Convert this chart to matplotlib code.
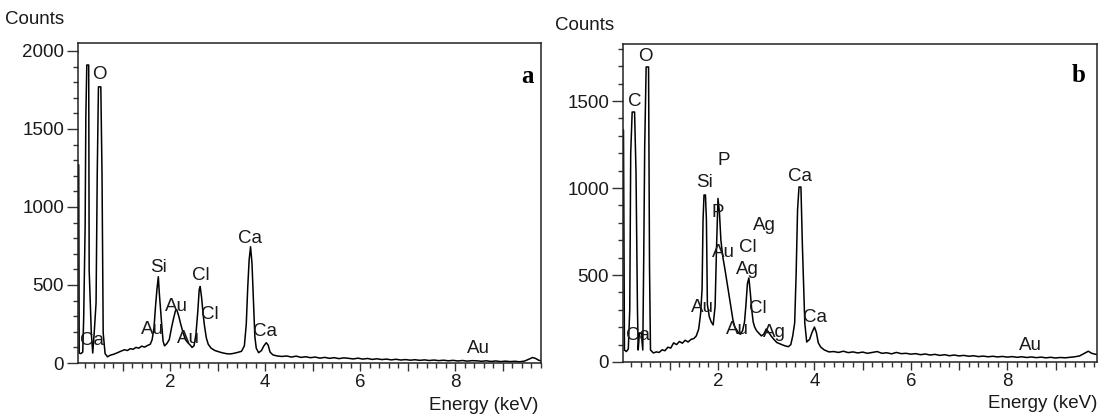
import matplotlib
matplotlib.use("Agg")
import matplotlib.pyplot as plt
from matplotlib.ticker import MultipleLocator, FuncFormatter

plt.rcParams['font.family'] = ['Liberation Sans', 'DejaVu Sans']

# ---------------- Panel a data (energy keV, counts) ----------------
energy_a = [0.05, 0.075, 0.085, 0.12, 0.16, 0.18, 0.21, 0.225, 0.245, 0.285, 0.295, 0.34, 0.37, 0.40, 0.44,
            0.465, 0.49, 0.54, 0.565, 0.59, 0.63, 0.68, 0.74, 0.80, 0.86, 0.92, 0.98, 1.04, 1.10, 1.16, 1.22,
            1.28, 1.34, 1.40, 1.46, 1.52, 1.58, 1.62, 1.66, 1.69, 1.72, 1.75, 1.77, 1.80, 1.82, 1.85, 1.88,
            1.93, 1.98, 2.03, 2.07, 2.11, 2.14, 2.18, 2.22, 2.27, 2.32, 2.37, 2.42, 2.46, 2.50, 2.54, 2.58,
            2.61, 2.63, 2.66, 2.69, 2.72, 2.76, 2.80, 2.86, 2.94, 3.02, 3.10, 3.18, 3.26, 3.34, 3.42, 3.50,
            3.56, 3.60, 3.63, 3.66, 3.69, 3.72, 3.75, 3.78, 3.81, 3.86, 3.92, 3.97, 4.02, 4.06, 4.10, 4.16,
            4.25, 4.35, 4.45, 4.55, 4.65, 4.75, 4.85, 4.95, 5.05, 5.15, 5.25, 5.35, 5.45, 5.55, 5.65, 5.75,
            5.85, 5.95, 6.05, 6.15, 6.25, 6.35, 6.45, 6.55, 6.65, 6.75, 6.85, 6.95, 7.05, 7.15, 7.25, 7.35,
            7.45, 7.55, 7.65, 7.75, 7.85, 7.95, 8.05, 8.15, 8.25, 8.35, 8.45, 8.55, 8.65, 8.75, 8.85, 8.95,
            9.05, 9.15, 9.25, 9.35, 9.45, 9.55, 9.62, 9.68, 9.75, 9.82]
counts_a = [1270, 1270, 64, 60, 70, 295, 872, 1577, 1910, 1910, 596, 192, 64, 190, 385,
            1218, 1770, 1770, 1218, 192, 60, 40, 50, 55, 62, 70, 78, 85, 80, 92, 88,
            100, 95, 108, 102, 112, 120, 150, 230, 360, 470, 553, 450, 330, 250, 140, 110,
            125, 150, 230, 285, 335, 340, 300, 250, 195, 150, 130, 115, 100, 110, 180, 330,
            470, 490, 420, 320, 240, 160, 120, 95, 80, 72, 65, 60, 58, 62, 68, 75,
            110, 250, 480, 660, 745, 640, 400, 170, 95, 66, 80, 110, 130, 115, 70, 52,
            45, 42, 45, 38, 44, 36, 40, 34, 38, 31, 36, 30, 34, 28, 33, 30,
            26, 31, 25, 29, 23, 27, 22, 25, 20, 24, 19, 22, 18, 21, 17, 20,
            16, 19, 15, 18, 14, 17, 13, 16, 12, 15, 14, 11, 14, 10, 13, 9,
            12, 9, 11, 8, 12, 25, 35, 30, 18, 12]

labels_a = ['O', 'Ca', 'Si', 'Au', 'Au', 'Au', 'Cl', 'Cl', 'Ca', 'Ca', 'Au']
label_x_a = [0.50, 0.36, 1.75, 1.63, 2.13, 2.38, 2.64, 2.84, 3.68, 4.00, 8.48]
label_y_a = [1846, 147, 615, 212, 359, 160, 564, 308, 801, 199, 90]

# ---------------- Panel b data ----------------
energy_b = [0.0, 0.04, 0.06, 0.10, 0.14, 0.17, 0.19, 0.22, 0.27, 0.30, 0.33, 0.345, 0.37, 0.41, 0.44,
            0.46, 0.48, 0.51, 0.56, 0.58, 0.60, 0.66, 0.72, 0.78, 0.84, 0.90, 0.96, 1.02, 1.08, 1.14, 1.20,
            1.26, 1.32, 1.38, 1.44, 1.50, 1.55, 1.60, 1.64, 1.67, 1.69, 1.71, 1.74, 1.76, 1.78, 1.82, 1.86,
            1.90, 1.94, 1.97, 2.00, 2.03, 2.06, 2.10, 2.14, 2.18, 2.22, 2.26, 2.31, 2.35, 2.39, 2.43, 2.47,
            2.51, 2.55, 2.58, 2.61, 2.64, 2.67, 2.70, 2.73, 2.76, 2.80, 2.85, 2.90, 2.95, 3.00, 3.04, 3.10,
            3.16, 3.22, 3.28, 3.34, 3.40, 3.46, 3.51, 3.55, 3.59, 3.62, 3.65, 3.68, 3.72, 3.75, 3.78, 3.80,
            3.84, 3.90, 3.95, 4.00, 4.04, 4.08, 4.13, 4.20, 4.30, 4.40, 4.50, 4.60, 4.70, 4.80, 4.90, 5.00,
            5.10, 5.20, 5.30, 5.40, 5.50, 5.60, 5.70, 5.80, 5.90, 6.00, 6.10, 6.20, 6.30, 6.40, 6.50, 6.60,
            6.70, 6.80, 6.90, 7.00, 7.10, 7.20, 7.30, 7.40, 7.50, 7.60, 7.70, 7.80, 7.90, 8.00, 8.10, 8.20,
            8.30, 8.40, 8.50, 8.60, 8.70, 8.80, 8.90, 9.00, 9.10, 9.20, 9.30, 9.40, 9.50, 9.60, 9.68, 9.75,
            9.82, 9.90]
counts_b = [1334, 1334, 69, 60, 75, 300, 1200, 1437, 1437, 1087, 300, 69, 167, 167, 69,
            600, 1236, 1696, 1696, 546, 69, 52, 58, 55, 70, 65, 85, 80, 110, 100, 118,
            108, 125, 115, 130, 135, 150, 190, 280, 420, 816, 960, 960, 816, 330, 260, 230,
            213, 320, 661, 940, 860, 700, 604, 540, 471, 400, 330, 242, 200, 184, 165, 160,
            180, 230, 330, 450, 483, 400, 299, 230, 201, 180, 165, 150, 160, 190, 175, 150,
            130, 112, 105, 98, 92, 88, 100, 150, 224, 500, 874, 1006, 1006, 673, 400, 224,
            115, 130, 170, 201, 170, 110, 86, 70, 58, 60, 55, 62, 54, 58, 52, 57,
            50, 55, 60, 50, 53, 47, 55, 48, 50, 45, 48, 42, 46, 40, 44, 38,
            42, 36, 40, 35, 38, 33, 36, 31, 34, 30, 33, 29, 32, 28, 31, 27,
            30, 26, 29, 25, 28, 24, 27, 23, 26, 24, 27, 30, 35, 50, 62, 50,
            45, 40]

labels_b = ['O', 'C', 'Ca', 'Si', 'P', 'P', 'Ag', 'Au', 'Cl', 'Ag', 'Cl', 'Au', 'Au', 'Ag', 'Ca', 'Ca', 'Au']
label_x_b = [0.50, 0.28, 0.34, 1.73, 2.12, 2.00, 2.97, 2.12, 2.62, 2.60, 2.83, 1.67, 2.40, 3.16, 3.70, 4.01, 8.47]
label_y_b = [1754, 1495, 155, 1029, 1161, 857, 782, 627, 661, 529, 310, 316, 184, 167, 1064, 253, 92]

# ---------------- Figure ----------------
W, H = 1099, 416
fig = plt.figure(figsize=(W / 100, H / 100), dpi=100)
fig.patch.set_facecolor('white')

text_color = '#1a1a1a'
fs = 13.5


def px_rect(l, r, t, b):
    return [l / W, 1 - b / H, (r - l) / W, (b - t) / H]


def style_axes(ax, xlim, ylim):
    ax.set_xlim(*xlim)
    ax.set_ylim(*ylim)
    ax.xaxis.set_major_locator(MultipleLocator(1))
    ax.xaxis.set_minor_locator(MultipleLocator(0.2))
    ax.xaxis.set_major_formatter(FuncFormatter(lambda v, p: f"{int(round(v))}" if int(round(v)) % 2 == 0 and round(v) > 0 else ""))
    ax.yaxis.set_major_locator(MultipleLocator(500))
    ax.yaxis.set_minor_locator(MultipleLocator(100))
    ax.tick_params(axis='both', which='major', direction='out', length=6, width=1, labelsize=fs,
                   colors='#333333', labelcolor=text_color, pad=2)
    ax.tick_params(axis='both', which='minor', direction='out', length=3.5, width=1, colors='#333333')
    ax.tick_params(axis='y', which='major', length=8)
    for s in ax.spines.values():
        s.set_linewidth(1.1)
        s.set_color('#222222')


# Panel a
ax1 = fig.add_axes(px_rect(78, 541, 43, 363))
ax1.plot(energy_a, counts_a, color='black', lw=1.1)
style_axes(ax1, (0.06, 9.8), (0, 2051))
for t, x, y in zip(labels_a, label_x_a, label_y_a):
    ax1.text(x, y, t, ha='center', va='center', fontsize=fs, color=text_color)
ax1.text(0.97, 0.895, 'a', transform=ax1.transAxes, ha='center', va='center',
         fontsize=18, fontweight='bold', family='Liberation Serif', color='black')

# Panel b
ax2 = fig.add_axes(px_rect(623, 1097, 44, 362))
ax2.plot(energy_b, counts_b, color='black', lw=1.1)
style_axes(ax2, (0.03, 9.86), (0, 1828))
for t, x, y in zip(labels_b, label_x_b, label_y_b):
    ax2.text(x, y, t, ha='center', va='center', fontsize=fs, color=text_color)
ax2.text(0.962, 0.9, 'b', transform=ax2.transAxes, ha='center', va='center',
         fontsize=18, fontweight='bold', family='Liberation Serif', color='black')

# Axis titles as free text
fig.text(5 / W, 1 - 20 / H, 'Counts', ha='left', va='center', fontsize=fs, color=text_color)
fig.text(555 / W, 1 - 25 / H, 'Counts', ha='left', va='center', fontsize=fs, color=text_color)
fig.text(538 / W, 1 - 406 / H, 'Energy (keV)', ha='right', va='center', fontsize=fs, color=text_color)
fig.text(1097 / W, 1 - 403 / H, 'Energy (keV)', ha='right', va='center', fontsize=fs, color=text_color)

fig.savefig('out.png', dpi=100, facecolor='white')
